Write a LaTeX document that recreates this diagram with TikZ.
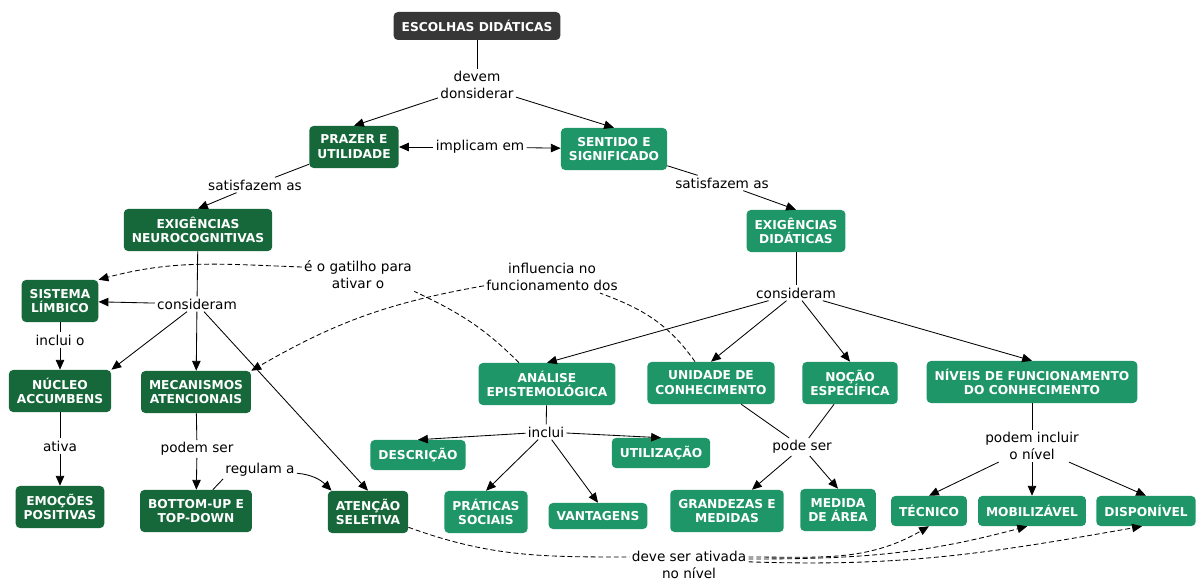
\documentclass[tikz,border=0pt]{standalone}
\usepackage{fontspec}
\setmainfont{DejaVu Sans}
\usetikzlibrary{arrows.meta}
\definecolor{dkgreen}{RGB}{22,104,58}
\definecolor{mdgreen}{RGB}{30,150,104}
\definecolor{dkgray}{RGB}{55,55,55}

\begin{document}
\begin{tikzpicture}[x=0.025cm,y=0.025cm,
  box/.style={rounded corners=3pt,text=white,align=center,inner xsep=0.2cm,minimum height=1.05cm,font=\fontsize{8.7}{10.5}\selectfont\bfseries},
  dk/.style={box,fill=dkgreen},
  md/.style={box,fill=mdgreen},
  one/.style={minimum height=0.75cm},
  lbl/.style={align=center,inner sep=1.5pt,font=\fontsize{9.7}{12}\selectfont},
  con/.style={line width=0.6pt},
  arr/.style={con,-{Triangle[length=7pt,width=6pt]}},
  dline/.style={con,dash pattern=on 3.5pt off 2pt},
  dsh/.style={arr,dash pattern=on 3.5pt off 2pt}]
\useasboundingbox (0,0) rectangle (1196,-582);

\node[box,fill=dkgray,minimum height=0.7cm] (ED) at (477,-26) {ESCOLHAS DIDÁTICAS};
\node[dk] (PU) at (354,-147) {PRAZER E\\UTILIDADE};
\node[md] (SS) at (614,-149) {SENTIDO E\\SIGNIFICADO};
\node[dk] (EN) at (198,-230) {EXIGÊNCIAS\\NEUROCOGNITIVAS};
\node[md] (EX) at (796,-231) {EXIGÊNCIAS\\DIDÁTICAS};
\node[dk] (SL) at (60,-301) {SISTEMA\\LÍMBICO};
\node[dk] (NA) at (60,-391) {NÚCLEO\\ACCUMBENS};
\node[dk] (MA) at (196,-392) {MECANISMOS\\ATENCIONAIS};
\node[dk] (EP) at (60,-507) {EMOÇÕES\\POSITIVAS};
\node[dk] (BT) at (196,-511) {BOTTOM-UP E\\TOP-DOWN};
\node[dk] (AS) at (368,-512) {ATENÇÃO\\SELETIVA};
\node[md] (AN) at (547,-384) {ANÁLISE\\EPISTEMOLÓGICA};
\node[md] (UC) at (711,-383) {UNIDADE DE\\CONHECIMENTO};
\node[md] (NE) at (850,-383) {NOÇÃO\\ESPECÍFICA};
\node[md] (NF) at (1032,-382) {NÍVEIS DE FUNCIONAMENTO\\DO CONHECIMENTO};
\node[md,one] (DE) at (418,-455) {DESCRIÇÃO};
\node[md,one] (UT) at (661,-453) {UTILIZAÇÃO};
\node[md] (PS) at (486,-512) {PRÁTICAS\\SOCIAIS};
\node[md,one,minimum height=0.65cm] (VA) at (598,-516) {VANTAGENS};
\node[md] (GM) at (727,-511) {GRANDEZAS E\\MEDIDAS};
\node[md] (MD) at (838,-510) {MEDIDA\\DE ÁREA};
\node[md,one] (TE) at (929,-511) {TÉCNICO};
\node[md,one] (MO) at (1032,-511) {MOBILIZÁVEL};
\node[md,one] (DI) at (1146,-511) {DISPONÍVEL};

\node[lbl] (l1) at (477,-85) {devem\\donsiderar};
\node[lbl] (l2) at (480,-147) {implicam em};
\node[lbl] (l3) at (255,-185) {satisfazem as};
\node[lbl] (l4) at (722,-183) {satisfazem as};
\node[lbl] (l5) at (197,-304) {consideram};
\node[lbl] (l6) at (796,-293) {consideram};
\node[lbl] (l7) at (358,-275) {é o gatilho para\\ativar o};
\node[lbl] (l8) at (552,-277) {influencia no\\funcionamento dos};
\node[lbl] (l9) at (60,-340) {inclui o};
\node[lbl] (l10) at (60,-446) {ativa};
\node[lbl] (l11) at (197,-449) {podem ser};
\node[lbl] (l12) at (260,-470) {regulam a};
\node[lbl] (l13) at (546,-432) {inclui};
\node[lbl] (l14) at (802,-447) {pode ser};
\node[lbl] (l15) at (1032,-446) {podem incluir\\o nível};
\node[lbl] (l16) at (689,-565) {deve ser ativada\\no nível};

\draw[con] (ED) -- (l1);
\draw[arr] (l1) -- (PU.north);
\draw[arr] (l1) -- (SS.north);
\draw[arr] (l2) -- (PU);
\draw[arr] (l2) -- (SS);
\draw[con] (PU) -- (l3);
\draw[arr] (l3) -- (EN.north);
\draw[con] (SS) -- (l4);
\draw[arr] (l4) -- (EX.north);

\draw[con] (EN) -- (l5);
\draw[arr] (l5) -- (SL);
\draw[arr] (l5) -- (NA.north east);
\draw[arr] (l5) -- (MA);
\draw[arr] (l5) -- (AS.north);
\draw[con] (SL) -- (l9);
\draw[arr] (l9) -- (NA);
\draw[con] (NA) -- (l10);
\draw[arr] (l10) -- (EP);
\draw[con] (MA) -- (l11);
\draw[arr] (l11) -- (BT);
\draw[con] ([xshift=0.42cm]BT.north) -- (l12.south west);
\draw[arr] (l12) to[out=-5,in=135] ([xshift=0.1cm]AS.north west);

\draw[con] (EX) -- (l6);
\draw[arr] (l6) -- (AN.north);
\draw[arr] (l6) -- (UC.north);
\draw[arr] (l6) -- (NE.north);
\draw[arr] (l6) -- (NF.north);
\draw[con] (AN) -- (l13);
\draw[arr] (l13) -- (DE.north);
\draw[arr] (l13) -- (UT.north);
\draw[arr] (l13) -- (PS.north);
\draw[arr] (l13) -- (VA.north);
\draw[con] (UC) -- (l14);
\draw[con] (NE) -- (l14);
\draw[arr] (l14) -- (GM);
\draw[arr] (l14) -- (MD.north);
\draw[con] (NF) -- (l15);
\draw[arr] (l15) -- (TE.north);
\draw[arr] (l15) -- (MO);
\draw[arr] (l15) -- (DI.north);

\draw[dline] ([xshift=-0.7cm]AN.north) to[out=135,in=-25] (l7.south east);
\draw[dsh] ([yshift=0.2cm]l7.west) to[out=178,in=15] (SL.north east);
\draw[dline] ([xshift=-0.4cm]UC.north) to[out=125,in=-20] ([xshift=-0.5cm]l8.south east);
\draw[dsh] ([yshift=-0.22cm]l8.west) to[out=190,in=30] (MA.north east);
\draw[dline] ([yshift=0.15cm]AS.south east) to[out=-20,in=180] ([yshift=0.2cm]l16.west);
\draw[dsh] ([yshift=0.2cm]l16.east) to[out=0,in=210] (TE.south);
\draw[dsh] ([yshift=0.15cm]l16.east) to[out=0,in=195] ([xshift=-0.12cm]MO.south);
\draw[dsh] ([yshift=0.08cm]l16.east) to[out=-2,in=190] ([xshift=-0.1cm]DI.south);
\end{tikzpicture}
\end{document}
